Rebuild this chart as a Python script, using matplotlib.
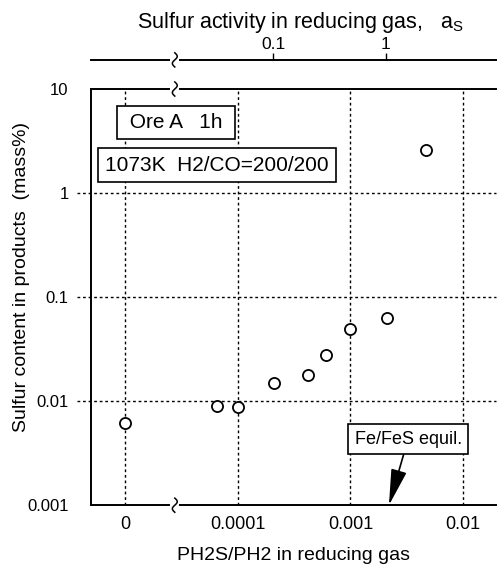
import numpy as np
import matplotlib
matplotlib.use('Agg')
import matplotlib.pyplot as plt

plt.rcParams['font.family'] = ['Liberation Sans', 'DejaVu Sans']

# data ("0" sits at the first position on the log axis)
ph2s_ratio = [0, 6.5e-5, 1.0e-4, 2.1e-4, 4.2e-4, 6.1e-4, 1.0e-3, 2.1e-3, 4.7e-3]
sulfur_mass = [0.0062, 0.0090, 0.0088, 0.015, 0.018, 0.028, 0.049, 0.063, 2.6]

x_ticks = [0, 1e-4, 1e-3, 1e-2]
x_ticklabels = ['0', '0.0001', '0.001', '0.01']
y_ticks = [0.001, 0.01, 0.1, 1, 10]
y_ticklabels = ['0.001', '0.01', '0.1', '1', '10']
as_ticks = [0.1, 1]
as_ticklabels = ['0.1', '1']

ZERO_POS = 1e-5      # where "0" is drawn
AS_FACTOR = 2.07e-3  # PH2S/PH2 at a_s = 1
FEFES_RATIO = 2.2e-3


def pos(v):
    return ZERO_POS if v == 0 else v


def draw_break(ax, xb, y):
    t = np.linspace(-1, 1, 40)
    ax.plot(xb + 0.006 * np.sin(np.pi * t), y + 0.017 * t, color='black', lw=1.1,
            transform=ax.transAxes, clip_on=False)


def broken_line(ax, y, xb):
    ax.plot([0, xb - 0.014], [y, y], color='black', lw=1.4, transform=ax.transAxes, clip_on=False)
    ax.plot([xb + 0.014, 1], [y, y], color='black', lw=1.4, transform=ax.transAxes, clip_on=False)
    draw_break(ax, xb, y)


fig = plt.figure(figsize=(4.97, 5.67), dpi=100)
ax = fig.add_axes([0.183, 0.109, 0.815, 0.734])
ax.set_xscale('log')
ax.set_yscale('log')
ax.set_xlim(4.93e-6, 0.0197)
ax.set_ylim(0.001, 10)

for s in ['top', 'bottom', 'right']:
    ax.spines[s].set_visible(False)
ax.spines['left'].set_linewidth(1.4)

xb = 0.207
broken_line(ax, 0, xb)
broken_line(ax, 1, xb)

# grid (horizontal lines run out to the tick labels)
for xv in x_ticks:
    ax.axvline(pos(xv), color='black', lw=1.0, ls=(0, (2, 2)))
for yv in y_ticks[1:-1]:
    ax.plot([-0.035, 1], [yv, yv], color='black', lw=1.0, ls=(0, (2, 2)),
            transform=ax.get_yaxis_transform(), clip_on=False)

ax.plot([pos(v) for v in ph2s_ratio], sulfur_mass, 'o', mfc='white', mec='black',
        ms=8, mew=1.3, zorder=5)

ax.set_xticks([pos(v) for v in x_ticks])
ax.set_xticklabels(x_ticklabels)
ax.set_yticks(y_ticks)
ax.set_yticklabels(y_ticklabels)
ax.minorticks_off()
ax.tick_params(length=0, labelsize=13, pad=8)
ax.tick_params(axis='y', labelsize=12, pad=16)

ax.set_xlabel('PH2S/PH2 in reducing gas', fontsize=14, labelpad=10)
ax.set_ylabel('Sulfur content in products  (mass%)', fontsize=14)
ax.yaxis.set_label_coords(-0.15, 0.548)

# top axis: sulfur activity
sec = ax.secondary_xaxis(1.07, functions=(lambda x: x / AS_FACTOR, lambda a: a * AS_FACTOR))
sec.spines['top'].set_visible(False)
sec.set_xticks(as_ticks)
sec.set_xticklabels(as_ticklabels)
sec.minorticks_off()
sec.tick_params(direction='out', length=5, width=1, labelsize=12.5, pad=1)
broken_line(ax, 1.07, xb)
fig.text(0.605, 0.961, r'Sulfur activity in reducing gas,   a$_\mathregular{S}$',
         fontsize=15.5, ha='center', va='center')

box = dict(boxstyle='square,pad=0.35', fc='white', ec='black', lw=1.2)
ax.text(0.21, 0.92, ' Ore A   1h ', transform=ax.transAxes, fontsize=15,
        ha='center', va='center', bbox=box)
ax.text(0.311, 0.817, '1073K  H2/CO=200/200', transform=ax.transAxes, fontsize=15,
        ha='center', va='center', bbox=box)

ax.annotate('Fe/FeS equil.', xy=(FEFES_RATIO, 0.001), xycoords='data',
            xytext=(0.783, 0.159), textcoords='axes fraction', fontsize=13,
            ha='center', va='center', bbox=box,
            arrowprops=dict(arrowstyle='-|>,head_length=1.6,head_width=0.35',
                            mutation_scale=14, color='black', lw=1.2,
                            shrinkA=0, shrinkB=0))

fig.savefig('out.png', dpi=100)
